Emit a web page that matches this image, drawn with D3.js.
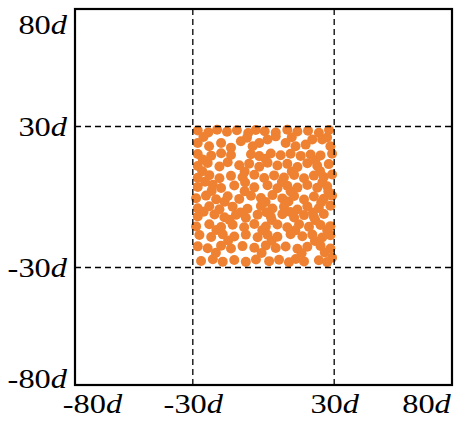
<!DOCTYPE html>
<html><head><meta charset="utf-8">
<script src="https://cdn.jsdelivr.net/npm/d3@7"></script>
<style>
html,body{margin:0;padding:0;background:#fff;}
svg{display:block;}
</style></head>
<body>
<svg id="chart" width="456" height="429"></svg>
<script>
const tickValues = [-80, -30, 30, 80];
const guideValues = [-30, 30];
const xs = [-27.9,-23.4,-19.7,-15.5,-11.3,-6.5,-3.3,0.5,5.2,10.1,14.4,18.9,23.5,27.8,
-27.9,-23.1,-18.0,-13.8,-9.6,-4.6,-1.8,1.7,5.2,9.4,13.6,17.9,20.7,24.9,28.4,
-27.9,-22.2,-18.0,-13.8,-5.3,-1.8,3.1,7.3,11.5,15.8,20.0,24.2,29.1,
-27.9,-23.7,-18.7,-15.2,-10.3,-6.1,-1.8,1.7,5.9,10.1,14.4,18.6,22.8,27.7,
-27.9,-23.0,-18.7,-13.8,-8.9,-3.9,0.3,4.5,8.7,13.0,17.2,21.4,25.6,29.1,
-27.9,-21.5,-18.0,-12.4,-3.9,1.7,5.9,10.1,14.4,18.6,22.8,27.0,
-28.6,-24.4,-20.1,-15.2,-10.3,-5.3,-1.1,3.8,8.0,13.0,17.2,21.4,25.6,29.1,
-27.9,-23.0,-18.7,-13.1,-6.8,-1.1,3.8,8.7,14.4,18.6,23.5,28.4,
-27.9,-20.8,-16.6,-11.7,-7.5,-2.5,3.1,8.0,13.0,17.2,21.4,25.6,
-28.6,-23.0,-18.0,-13.1,-8.2,-3.9,1.0,5.9,10.1,15.1,19.3,24.2,28.4,
-27.2,-22.2,-17.3,-12.4,-7.5,-2.5,1.7,5.9,11.5,16.5,20.7,24.9,28.4,
-27.9,-23.7,-18.0,-13.8,-8.9,-3.9,1.0,5.2,9.4,14.4,18.6,24.2,28.4,
-26.5,-21.5,-17.3,-12.4,-7.5,-3.2,2.4,6.6,10.8,13.7,17.2,23.5,27.0,29.1,
-25.5,-7.0,12.0,27.0,
-25.8,0.8,22.0,
-26.0,-8.0,12.0,24.0,
-24.8,-7.8,7.8,25.0,
-22.0,-8.0,11.5,27.5,
-16.5,0.9,10.6,24.5,
-25.4,-9.8,1.2,11.4,21.0,
-14.5,3.5,22.0,
-20.0,-0.5,13.5,27.0,
-15.0,3.5,21.8,
-20.2,-0.8,16.2,26.0];
const ys = [28.3,27.5,28.6,27.8,28.4,27.2,28.5,28.0,27.4,28.6,27.9,28.2,27.3,28.5,
23.0,21.6,23.0,21.0,23.7,21.6,23.0,24.5,25.8,23.0,21.6,22.3,24.5,24.5,21.6,
18.3,17.6,18.6,17.9,18.2,17.4,18.5,17.8,18.4,17.5,18.1,17.7,18.4,
13.2,14.5,13.0,14.8,13.5,14.2,12.9,14.6,13.4,14.1,12.8,14.4,13.3,14.0,
8.2,9.3,8.0,9.0,8.4,9.5,8.1,9.2,8.3,9.4,8.0,9.1,8.5,9.6,
4.3,5.2,3.8,4.9,4.1,5.0,3.7,4.8,4.0,5.1,3.9,4.6,
-0.5,0.6,-1.0,0.3,-0.8,0.5,-0.4,0.8,-0.6,0.4,-1.1,0.2,-0.7,0.6,
-4.8,-3.9,-5.2,-4.1,-5.0,-3.8,-4.9,-4.2,-5.3,-4.0,-4.7,-3.7,
-8.3,-7.4,-8.6,-7.6,-8.8,-7.5,-8.4,-7.3,-8.7,-7.7,-8.5,-7.2,
-12.5,-11.6,-12.8,-11.8,-12.9,-11.5,-12.6,-11.7,-12.9,-11.6,-12.7,-11.9,-12.4,
-16.2,-17.0,-15.9,-16.8,-16.0,-17.1,-16.1,-16.9,-15.8,-16.7,-16.0,-17.2,-16.3,
-21.0,-21.8,-20.7,-21.9,-20.9,-21.6,-20.6,-21.7,-21.1,-22.0,-21.2,-20.8,-21.9,
-27.2,-26.5,-27.5,-26.8,-27.6,-26.6,-27.3,-26.7,-27.8,-26.4,-27.4,-26.9,-27.7,-25.8,
25.5,25.2,25.4,25.3,
16.0,16.3,15.6,
11.0,10.8,10.9,11.0,
6.5,6.2,6.4,6.3,
2.6,2.5,2.4,2.3,
-2.0,-2.1,-1.9,-2.2,
-6.3,-6.6,-6.5,-6.4,-6.6,
-9.7,-9.8,-9.9,
-14.0,-14.1,-14.2,-14.0,
-18.5,-18.6,-18.7,
-23.7,-23.8,-23.9,-23.6];

const svg = d3.select("#chart");
const L = 75, R = 452, T = 9, B = 385;
const SX = 1.2;
const x = d3.scaleLinear().domain([-80, 80]).range([L, R]);
const y = d3.scaleLinear().domain([-80, 80]).range([B, T]);

svg.append("g").selectAll("circle").data(xs.map((v, i) => [v, ys[i]]))
  .join("circle")
  .attr("cx", d => x(d[0])).attr("cy", d => y(d[1]))
  .attr("r", 5).attr("fill", "#EF8232");

const g = svg.append("g").attr("stroke", "#000").attr("stroke-width", 1.3).attr("stroke-dasharray", "6,4");
g.selectAll("line.v").data(guideValues).join("line").attr("class", "v")
  .attr("x1", d => x(d)).attr("x2", d => x(d)).attr("y1", T).attr("y2", B);
g.selectAll("line.h").data(guideValues).join("line").attr("class", "h")
  .attr("y1", d => y(d)).attr("y2", d => y(d)).attr("x1", L).attr("x2", R);

svg.append("rect").attr("x", L).attr("y", T).attr("width", R - L).attr("height", B - T)
  .attr("fill", "none").attr("stroke", "#000").attr("stroke-width", 2.2);

function labelize(sel) {
  sel.each(function(d) {
    const t = d3.select(this);
    t.text(null);
    t.append("tspan").text(d);
    t.append("tspan").attr("font-style", "italic").text("d");
  });
}
const FF = "'Liberation Serif', 'Times New Roman', serif";

const xAxis = svg.append("g").attr("transform", `translate(0,${B})`)
  .call(d3.axisBottom(x).tickValues(tickValues).tickSize(0).tickPadding(9));
xAxis.select(".domain").remove();
xAxis.selectAll("text").attr("font-size", 27).attr("fill", "#000")
  .attr("font-family", FF).call(labelize)
  .attr("transform", `scale(${SX},1)`)
  .attr("dx", d => (d === -80 ? 17 : d === 80 ? -26 : 0) / SX);

const yAxis = svg.append("g").attr("transform", `translate(${L},0)`)
  .call(d3.axisLeft(y).tickValues(tickValues).tickSize(0).tickPadding(8));
yAxis.select(".domain").remove();
yAxis.selectAll("text").attr("font-size", 27).attr("fill", "#000")
  .attr("font-family", FF).call(labelize)
  .attr("transform", `scale(${SX},1)`)
  .attr("x", -8 / SX)
  .attr("dy", d => d === 80 ? "0.9em" : d === -80 ? "0.1em" : "0.32em");
</script>
</body></html>
